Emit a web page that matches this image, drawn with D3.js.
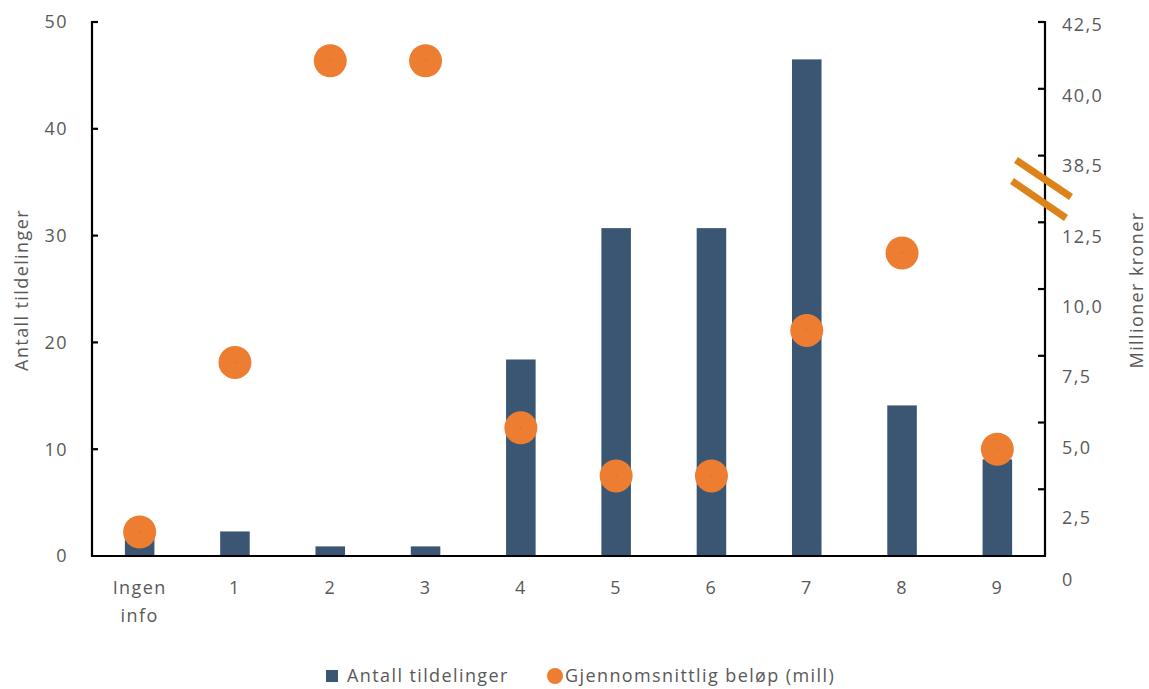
<!DOCTYPE html>
<html>
<head>
<meta charset="utf-8">
<script src="https://cdn.jsdelivr.net/npm/d3@7/dist/d3.min.js"></script>
<style>
  html, body { margin: 0; padding: 0; background: #ffffff; }
  svg { display: block; font-family: "Open Sans", Lato, sans-serif; }
</style>
</head>
<body>
<svg id="chart" width="1149" height="689"></svg>
<script>
// Categories (number of something per award) and the two series
const categories = ["Ingen info", "1", "2", "3", "4", "5", "6", "7", "8", "9"];
const antallTildelinger = [2.7, 2.3, 0.9, 0.9, 18.4, 30.7, 30.7, 46.5, 14.1, 9.05];
const gjennomsnittBelop = [0.9, 7.25, 41.05, 41.05, 4.8, 3.0, 3.0, 8.45, 11.35, 4.0];

// Axis tick values
const leftTicks = [0, 10, 20, 30, 40, 50];
const rightTicks = [0, 2.5, 5, 7.5, 10, 12.5, 38.5, 40, 42.5];
const rightTickLabels = ["0", "2,5", "5,0", "7,5", "10,0", "12,5", "38,5", "40,0", "42,5"];

const svg = d3.select("#chart");
const plot = { left: 92, right: 1045, top: 22, bottom: 556 };

const textColor = "#595959";
const barColor = "#3A5673";
const dotColor = "#ED7D31";
const breakColor = "#DC8419";
const fontSize = 18;
const spacing = "1.4px";

const x = d3.scaleBand().domain(categories).range([plot.left, plot.right]).paddingInner(0.69).paddingOuter(0.345);
const yLeft = d3.scaleLinear().domain([0, 50]).range([plot.bottom, plot.top]);
// Broken secondary axis: 0–12,5 on the lower part, 38,5–42,5 on the upper part
const yRight = d3.scaleLinear()
  .domain([0, 12.5, 38.5, 40, 42.5])
  .range([plot.bottom, 222.3, 155.6, 88.8, plot.top]);
// Secondary-axis labels sit a little below their ticks
const rightLabelPos = d3.scaleLinear().domain([556, 489, 423, 22]).range([580, 517, 448, 25]);

// Bars
svg.append("g").selectAll("rect")
  .data(categories)
  .join("rect")
  .attr("x", d => x(d))
  .attr("width", x.bandwidth())
  .attr("y", (d, i) => yLeft(antallTildelinger[i]))
  .attr("height", (d, i) => yLeft(0) - yLeft(antallTildelinger[i]))
  .attr("fill", barColor);

// Axes lines and ticks
const axes = svg.append("g").attr("stroke", "#000").attr("stroke-width", 2.2).attr("fill", "none");
axes.append("line").attr("x1", plot.left).attr("x2", plot.left).attr("y1", plot.top - 1).attr("y2", plot.bottom + 1);
axes.append("line").attr("x1", plot.right).attr("x2", plot.right).attr("y1", plot.top - 1).attr("y2", plot.bottom + 1);
axes.append("line").attr("x1", plot.left - 1).attr("x2", plot.right + 1).attr("y1", plot.bottom).attr("y2", plot.bottom);
axes.selectAll("line.lt").data(leftTicks.slice(1)).join("line").attr("class", "lt")
  .attr("x1", plot.left).attr("x2", plot.left + 6)
  .attr("y1", d => yLeft(d)).attr("y2", d => yLeft(d));
axes.selectAll("line.rt").data(rightTicks.slice(1)).join("line").attr("class", "rt")
  .attr("x1", plot.right - 7).attr("x2", plot.right)
  .attr("y1", d => yRight(d)).attr("y2", d => yRight(d));

const textStyle = sel => sel.attr("fill", textColor).attr("font-size", fontSize).attr("letter-spacing", spacing);

// Left tick labels
svg.append("g").selectAll("text")
  .data(leftTicks)
  .join("text")
  .attr("x", 68)
  .attr("y", d => yLeft(d))
  .attr("dy", "0.35em")
  .attr("text-anchor", "end")
  .call(textStyle)
  .text(d => d);

// Right tick labels
svg.append("g").selectAll("text")
  .data(rightTicks)
  .join("text")
  .attr("x", 1062)
  .attr("y", d => rightLabelPos(yRight(d)))
  .attr("dy", "0.35em")
  .call(textStyle)
  .text((d, i) => rightTickLabels[i]);

// Category labels
const xl = svg.append("g").selectAll("text")
  .data(categories)
  .join("text")
  .attr("x", d => x(d) + x.bandwidth() / 2)
  .attr("y", 588)
  .attr("text-anchor", "middle")
  .call(textStyle);
xl.each(function(d) {
  const parts = d === "Ingen info" ? ["Ingen", "info"] : [d];
  const t = d3.select(this);
  parts.forEach((p, k) => {
    t.append("tspan").attr("x", x(d) + x.bandwidth() / 2).attr("dy", k === 0 ? "0.35em" : "28px").text(p);
  });
});

// Axis titles
svg.append("text")
  .attr("transform", "translate(28,290) rotate(-90)")
  .attr("text-anchor", "middle")
  .call(textStyle)
  .text("Antall tildelinger");
svg.append("text")
  .attr("transform", "translate(1143,290) rotate(-90)")
  .attr("text-anchor", "middle")
  .call(textStyle)
  .text("Millioner kroner");

// Average amount markers
const dots = svg.append("g");
dots.selectAll("circle")
  .data(categories)
  .join("circle")
  .attr("cx", d => x(d) + x.bandwidth() / 2)
  .attr("cy", (d, i) => yRight(gjennomsnittBelop[i]))
  .attr("r", 16.5)
  .attr("fill", dotColor);
dots.selectAll("rect")
  .data(categories)
  .join("rect")
  .attr("x", d => x(d) + x.bandwidth() / 2 - 1)
  .attr("y", (d, i) => yRight(gjennomsnittBelop[i]) - 1)
  .attr("width", 2).attr("height", 2)
  .attr("fill", "#C58A1E");

// Axis break marks on the secondary axis
const brk = svg.append("g").attr("stroke", breakColor).attr("stroke-width", 7);
brk.append("line").attr("x1", 1016).attr("y1", 160).attr("x2", 1071).attr("y2", 197);
brk.append("line").attr("x1", 1012).attr("y1", 181).attr("x2", 1066).attr("y2", 218);

// Legend
const lg = svg.append("g").call(textStyle);
lg.append("rect").attr("x", 326).attr("y", 670).attr("width", 12).attr("height", 12).attr("fill", barColor);
lg.append("text").attr("x", 347).attr("y", 676).attr("dy", "0.35em").text("Antall tildelinger");
lg.append("circle").attr("cx", 555).attr("cy", 676).attr("r", 8).attr("fill", dotColor);
lg.append("text").attr("x", 565).attr("y", 676).attr("dy", "0.35em").text("Gjennomsnittlig beløp (mill)");
</script>
</body>
</html>
